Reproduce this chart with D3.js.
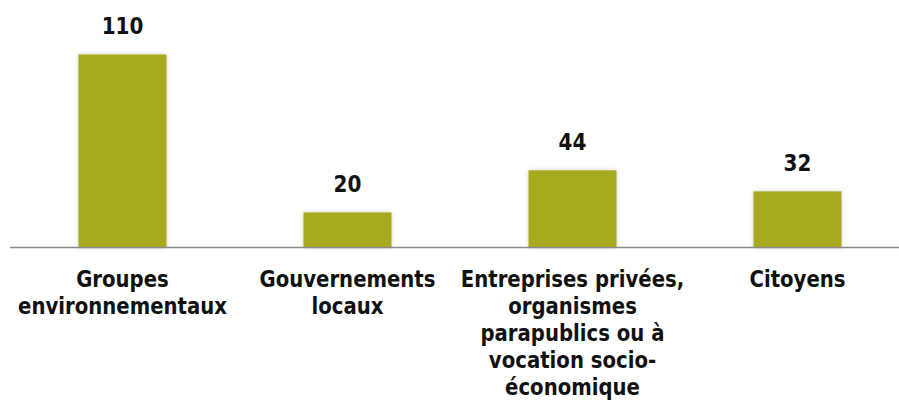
<!DOCTYPE html>
<html>
<head>
<meta charset="utf-8">
<script src="https://cdn.jsdelivr.net/npm/d3@7"></script>
<style>
  body { margin: 0; background: #fff; }
  text { font-family: "DejaVu Sans", Verdana, sans-serif; font-weight: bold; fill: #111; }
</style>
</head>
<body>
<div id="chart"></div>
<script>
// categories, with their line breaks as drawn under the axis
const categories = ['Groupes environnementaux', 'Gouvernements locaux',
  'Entreprises privées, organismes parapublics ou à vocation socio-économique', 'Citoyens'];
const tickLabels = [
  ['Groupes', 'environnementaux'],
  ['Gouvernements', 'locaux'],
  ['Entreprises privées,', 'organismes', 'parapublics ou à', 'vocation socio-', 'économique'],
  ['Citoyens']
];
const values = [110, 20, 44, 32];

const width = 899;
const height = 401;

const svg = d3.select('#chart').append('svg')
  .attr('width', width)
  .attr('height', height);

// soft shadow like the original bars
const defs = svg.append('defs');
const filter = defs.append('filter').attr('id', 'shadow')
  .attr('x', '-20%').attr('y', '-20%').attr('width', '140%').attr('height', '140%');
filter.append('feDropShadow')
  .attr('dx', 0).attr('dy', 0).attr('stdDeviation', 2)
  .attr('flood-color', '#000').attr('flood-opacity', 0.2);

const xScale = d3.scaleBand()
  .domain(categories)
  .range([10, 910])
  .paddingInner(0.609)
  .paddingOuter(0.3045);

const yScale = d3.scaleLinear().domain([0, 110]).range([247.5, 54.5]);

// bars
svg.selectAll('rect.bar')
  .data(values)
  .enter()
  .append('rect')
  .attr('class', 'bar')
  .attr('x', (d, i) => xScale(categories[i]))
  .attr('y', (d) => yScale(d))
  .attr('width', xScale.bandwidth())
  .attr('height', (d) => yScale(0) - yScale(d))
  .attr('fill', '#a7aa1c')
  .attr('filter', 'url(#shadow)');

// value labels (text in the original is a bit stretched vertically)
svg.selectAll('text.value')
  .data(values)
  .enter()
  .append('text')
  .attr('class', 'value')
  .attr('transform', (d, i) =>
    'translate(' + (xScale(categories[i]) + xScale.bandwidth() / 2) + ',' + (yScale(d) - 20.5) + ') scale(1,1.14)')
  .attr('text-anchor', 'middle')
  .style('font-size', '20px')
  .text((d) => d);

// x axis
const xAxis = d3.axisBottom(xScale).tickSize(0).tickFormat('');
const axisGroup = svg.append('g')
  .attr('transform', 'translate(0,' + yScale(0) + ')')
  .call(xAxis);
axisGroup.select('.domain')
  .attr('stroke', '#8a8a8a')
  .attr('stroke-width', 1.5)
  .attr('d', 'M10,0H' + width);

axisGroup.selectAll('.tick').each(function (d, i) {
  const tick = d3.select(this);
  tickLabels[i].forEach((line, j) => {
    tick.append('text')
      .attr('text-anchor', 'middle')
      .attr('transform', 'translate(0,' + (39.5 + j * 27) + ') scale(1,1.2)')
      .style('font-size', '19.7px')
      .text(line);
  });
});
</script>
</body>
</html>
